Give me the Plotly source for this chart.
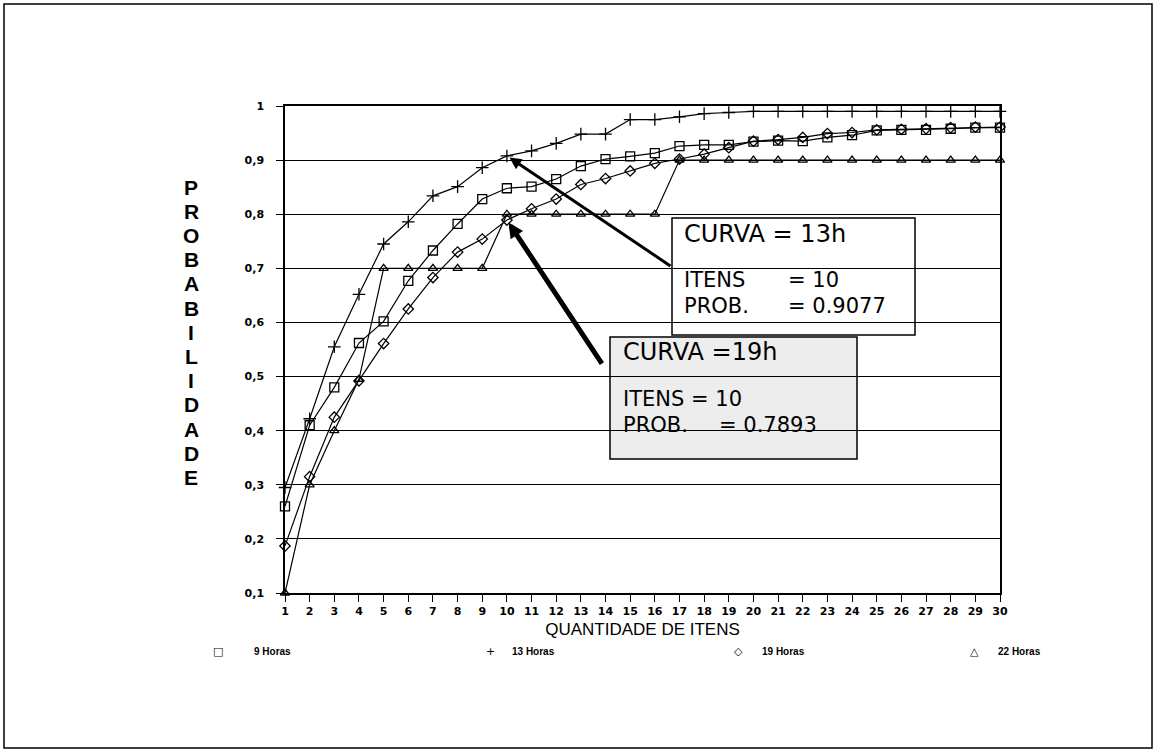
import plotly.graph_objects as go

# ---------------- data ----------------
itens = list(range(1, 31))
tick_x_labels = [str(i) for i in itens]
y_ticks = [0.1, 0.2, 0.3, 0.4, 0.5, 0.6, 0.7, 0.8, 0.9, 1.0]
y_tick_labels = ["0,1", "0,2", "0,3", "0,4", "0,5", "0,6", "0,7", "0,8", "0,9", "1"]

prob_9h = [0.26, 0.41, 0.48, 0.562, 0.602, 0.677, 0.733, 0.782, 0.828, 0.848,
           0.851, 0.865, 0.889, 0.902, 0.907, 0.913, 0.926, 0.928, 0.928, 0.934,
           0.936, 0.935, 0.942, 0.946, 0.955, 0.956, 0.956, 0.958, 0.960, 0.960]
prob_13h = [0.295, 0.422, 0.555, 0.652, 0.745, 0.786, 0.834, 0.851, 0.886, 0.9077,
            0.917, 0.931, 0.948, 0.948, 0.975, 0.975, 0.980, 0.986, 0.988, 0.990,
            0.990, 0.990, 0.990, 0.990, 0.990, 0.990, 0.990, 0.990, 0.990, 0.990]
prob_19h = [0.187, 0.315, 0.425, 0.492, 0.561, 0.625, 0.683, 0.730, 0.754, 0.7893,
            0.810, 0.828, 0.855, 0.866, 0.880, 0.894, 0.902, 0.911, 0.923, 0.935,
            0.938, 0.942, 0.949, 0.951, 0.956, 0.957, 0.958, 0.960, 0.961, 0.961]
prob_22h = [0.10, 0.30, 0.40, 0.495, 0.70, 0.70, 0.70, 0.70, 0.70, 0.80,
            0.80, 0.80, 0.80, 0.80, 0.80, 0.80, 0.90, 0.90, 0.90, 0.90,
            0.90, 0.90, 0.90, 0.90, 0.90, 0.90, 0.90, 0.90, 0.90, 0.90]

series_names = ["9 Horas", "13 Horas", "19 Horas", "22 Horas"]
series_values = [prob_9h, prob_13h, prob_19h, prob_22h]
series_symbols = ["square-open", "cross-thin-open", "diamond-open", "triangle-up-open"]
series_sizes = [9, 9, 8, 8]
legend_glyphs = ["\u25a1", "+", "\u25c7", "\u25b3"]

y_title_letters = list("PROBABILIDADE")
x_title = "QUANTIDADE DE ITENS"

# ---------------- layout geometry (pixels) ----------------
W, H = 1158, 751
L, R, T, B = 285, 1000, 106, 593   # plot area edges


def px_x(px):
    return (px - L) / (R - L)


def px_y(py):
    return (B - py) / (B - T)


fig = go.Figure()

for name, vals, sym, sz in zip(series_names, series_values, series_symbols, series_sizes):
    fig.add_trace(go.Scatter(
        x=itens, y=vals, mode="lines+markers", name=name,
        line=dict(color="black", width=1.2),
        marker=dict(symbol=sym, size=sz, color="black", line=dict(color="black", width=1.3)),
        cliponaxis=False, showlegend=False,
    ))

tick_font = dict(family="DejaVu Sans", size=11, color="black", weight="bold")

fig.update_xaxes(
    range=[1, 30], tickmode="array", tickvals=itens, ticktext=tick_x_labels,
    showgrid=False, showline=True, linecolor="black", linewidth=1.5, mirror=True,
    ticks="outside", ticklen=7, tickwidth=1.3, tickcolor="black",
    tickfont=tick_font, zeroline=False,
    title=dict(text=x_title, font=dict(family="Liberation Sans", size=17, color="black"), standoff=6),
)
fig.update_yaxes(
    range=[0.1, 1.0], tickmode="array", tickvals=y_ticks, ticktext=y_tick_labels,
    showgrid=True, gridcolor="black", gridwidth=1.3,
    showline=True, linecolor="black", linewidth=1.5, mirror=True,
    ticks="outside", ticklen=7, tickwidth=1.3, tickcolor="black",
    tickfont=tick_font, zeroline=False, ticklabelstandoff=10,
)

shapes = []
# outer frame
shapes.append(dict(type="rect", xref="paper", yref="paper",
                   x0=px_x(4), x1=px_x(1152), y0=px_y(748), y1=px_y(4),
                   line=dict(color="black", width=1.5), fillcolor="rgba(0,0,0,0)", layer="below"))
# annotation box 13h (transparent)
shapes.append(dict(type="rect", xref="paper", yref="paper",
                   x0=px_x(672), x1=px_x(915), y0=px_y(335), y1=px_y(218),
                   line=dict(color="black", width=1.5), fillcolor="rgba(0,0,0,0)", layer="below"))
# annotation box 19h (stippled grey, grid visible through it)
shapes.append(dict(type="rect", xref="paper", yref="paper",
                   x0=px_x(610), x1=px_x(857), y0=px_y(459), y1=px_y(337),
                   line=dict(color="black", width=1.5), fillcolor="rgba(0,0,0,0.07)", layer="below"))

annotations = []
head_font = dict(family="DejaVu Sans", size=24, color="black")
body_font = dict(family="DejaVu Sans", size=21, color="black")


def txt(text, px, py, font=body_font, xanchor="left"):
    annotations.append(dict(text=text, xref="paper", yref="paper", x=px_x(px), y=px_y(py),
                            xanchor=xanchor, yanchor="middle", showarrow=False, font=font))


txt("CURVA = 13h", 682, 234, font=head_font)
txt("ITENS", 682, 280)
txt("= 10", 786, 280)
txt("PROB.", 682, 306)
txt("= 0.9077", 786, 306)

txt("CURVA =19h", 621, 352, font=head_font)
txt("ITENS = 10", 621, 399)
txt("PROB.", 621, 425)
txt("= 0.7893", 717, 425)

# arrows pointing at item 10 of curves 13h and 19h
annotations.append(dict(x=itens[9], y=prob_13h[9], xref="x", yref="y", ax=165, ay=111,
                        showarrow=True, arrowhead=2, arrowsize=0.8, arrowwidth=3,
                        arrowcolor="black", text="", standoff=3))
annotations.append(dict(x=itens[9], y=prob_19h[9], xref="x", yref="y", ax=96, ay=145,
                        showarrow=True, arrowhead=2, arrowsize=0.6, arrowwidth=5,
                        arrowcolor="black", text="", standoff=3))

# vertical stacked y title
letter_font = dict(family="Liberation Sans", size=21, color="black", weight="bold")
for i, ch in enumerate(y_title_letters):
    txt(ch, 191, 187 + i * 24.2, font=letter_font, xanchor="center")

# legend row (glyph + label)
legend_marker_px = [218, 490, 738, 974]
legend_text_px = [252, 510, 760, 996]
leg_font = dict(family="Liberation Sans", size=10, color="black", weight="bold")
glyph_font = dict(family="DejaVu Sans", size=11, color="black")
for g, name, mx, tx in zip(legend_glyphs, series_names, legend_marker_px, legend_text_px):
    txt(g, mx, 651, font=glyph_font, xanchor="center")
    txt(name, tx, 651, font=leg_font)

fig.update_layout(
    width=W, height=H,
    margin=dict(l=L, r=W - R, t=T, b=H - B, pad=0),
    paper_bgcolor="white", plot_bgcolor="white",
    shapes=shapes, annotations=annotations, showlegend=False,
    font=dict(family="Liberation Sans", color="black"),
)

fig.write_html("out.html")
